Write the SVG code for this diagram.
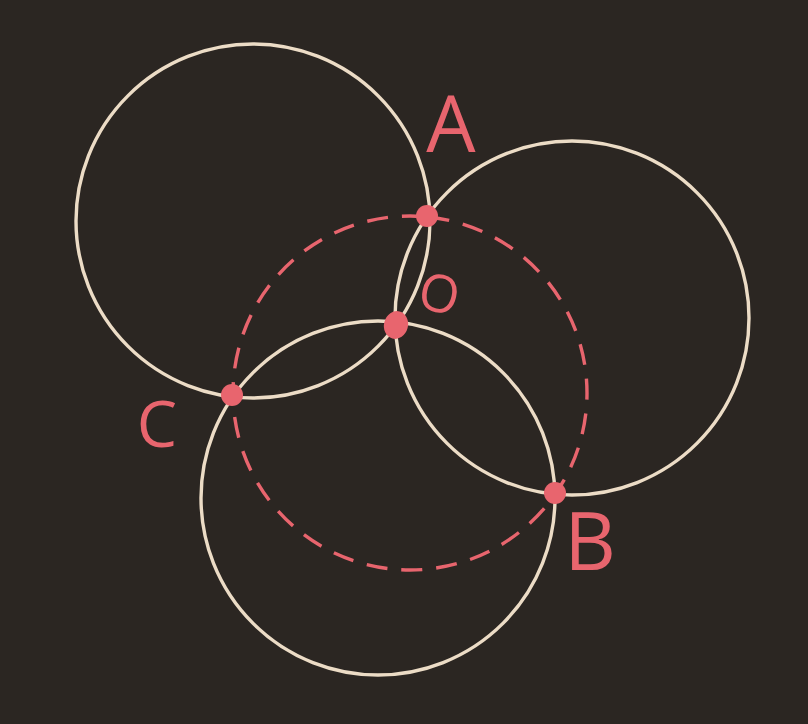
<svg xmlns="http://www.w3.org/2000/svg" width="808" height="724" viewBox="0 0 808 724">
<style>
.c{fill:none;stroke:#ecdcc6;stroke-width:3.4}
.d{fill:none;stroke:#e8656e;stroke-width:3.4;stroke-dasharray:21 14}
.p{fill:#e8656e}
.t{fill:#e8656e;font-family:"Open Sans","DejaVu Sans",sans-serif;font-weight:400}
</style>
<rect width="808" height="724" fill="#2b2622"/>
<g id="circles">
<circle id="circle1" class="c" cx="253" cy="221" r="177"/>
<circle id="circle2" class="c" cx="572" cy="318" r="177"/>
<circle id="circle3" class="c" cx="378" cy="498" r="177"/>
</g>
<g id="dashed">
<circle class="d" cx="410" cy="393" r="177" transform="rotate(-84 410 393)"/>
</g>
<g id="points">
<circle id="A" class="p" cx="427" cy="216" r="11"/>
<ellipse id="O" class="p" cx="396" cy="325" rx="12" ry="14" transform="rotate(15 396 325)"/>
<circle id="C" class="p" cx="232" cy="395" r="11"/>
<circle id="B" class="p" cx="555" cy="493" r="11"/>
</g>
<g id="labels">
<text class="t" x="451" y="152" font-size="78" text-anchor="middle">A</text>
<text class="t" x="439" y="312" font-size="52" text-anchor="middle" transform="rotate(12 439 295)">O</text>
<text class="t" x="157" y="447" font-size="64" text-anchor="middle">C</text>
<text class="t" x="590" y="570" font-size="80" text-anchor="middle">B</text>
</g>
</svg>
